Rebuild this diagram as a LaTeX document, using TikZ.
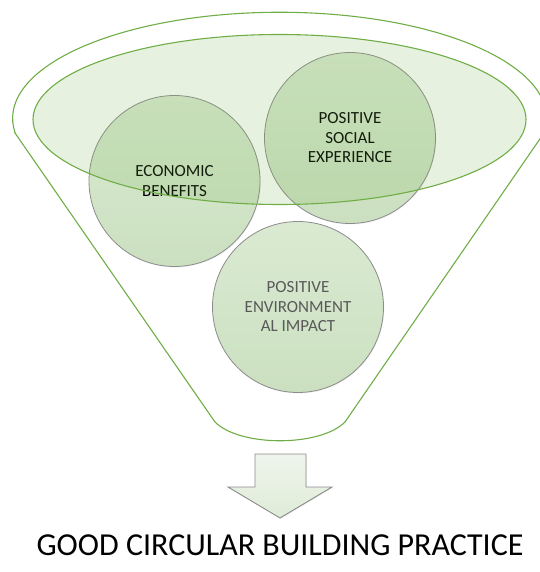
\documentclass[tikz,border=0pt]{standalone}
\usepackage{fontspec}
\setmainfont{Carlito}
\usetikzlibrary{shadows}
\definecolor{fgreen}{HTML}{70AD47}
\definecolor{ctop}{HTML}{DAEAD2}
\definecolor{cbot}{HTML}{CBE0C0}
\definecolor{cline}{HTML}{8C8C8C}
\definecolor{envtext}{HTML}{595959}
\definecolor{atop}{HTML}{EFF5EC}
\definecolor{abot}{HTML}{DFECD8}
\tikzset{
  funnelline/.style={draw=fgreen, line width=1.1pt},
  circ/.style={circle, minimum size=171pt, inner sep=0pt, draw=cline, line width=0.8pt,
    top color=ctop, bottom color=cbot, align=center,
    font=\fontsize{17}{19.5}\selectfont,
    drop shadow={opacity=0.12, shadow xshift=0.8pt, shadow yshift=-1pt}},
  topell/.style={draw=fgreen, line width=1.1pt, fill=fgreen, fill opacity=0.17},
  arrowbox/.style={draw=gray!90, line width=0.9pt, top color=atop, bottom color=abot,
    drop shadow={opacity=0.2, shadow xshift=0.6pt, shadow yshift=-0.8pt}},
  titletext/.style={font=\fontsize{32}{38}\selectfont, text=black}
}
\begin{document}
\begin{tikzpicture}[x=1pt,y=-1pt]
\useasboundingbox (0,0) rectangle (539,572);
% outer funnel
\draw[funnelline] (15,133) -- (215,422) .. controls (240,447) and (320,447) .. (345,422)
  -- (544,133) arc[start angle=368, end angle=172, x radius=267, y radius=106] -- cycle;
% circles
\node[circ] (eco) at (174.5,181) {ECONOMIC\\BENEFITS};
\node[circ] (soc) at (350,138) {POSITIVE\\SOCIAL\\EXPERIENCE};
\node[circ, text=envtext] (env) at (298,307) {POSITIVE\\ENVIRONMENT\\AL IMPACT};
% inner ellipse on top
\path[topell] (279.5,119.5) ellipse [x radius=246.5, y radius=85];
% arrow
\draw[arrowbox] (255,454) -- (306,454) -- (306,487) -- (332,487) -- (280,518)
  -- (228,487) -- (255,487) -- cycle;
% title
\node[titletext] (title) at (280,545) {GOOD CIRCULAR BUILDING PRACTICE};
\end{tikzpicture}
\end{document}
